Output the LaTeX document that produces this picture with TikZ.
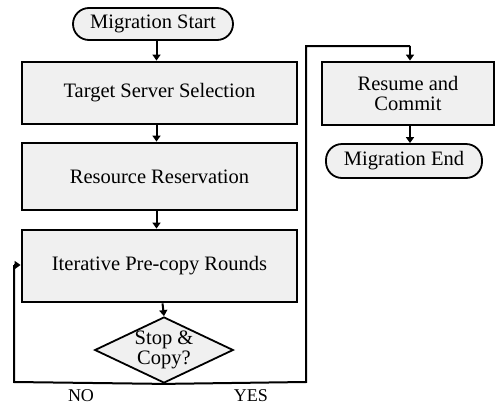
\documentclass[tikz,border=0pt]{standalone}
\usepackage{fontspec}
\setmainfont{Liberation Serif}
\usetikzlibrary{shapes.geometric,arrows.meta}
\begin{document}
\begin{tikzpicture}[x=1pt,y=-1pt,
  lbl/.style={font=\fontsize{20.5}{20}\selectfont},
  procbox/.style={draw,line width=2.8pt,fill=black!6,minimum width=275pt,inner sep=0pt,lbl},
  pill/.style={draw,line width=1.8pt,fill=black!6,rounded corners=16pt,inner sep=0pt,lbl},
  decide/.style={draw,line width=1.8pt,fill=black!6,diamond,aspect=2.1,inner sep=0pt,align=center,lbl},
  flow/.style={line width=2pt,-{Triangle[length=6pt,width=8pt]}},
  wire/.style={line width=2pt}]
\useasboundingbox (0,0) rectangle (496,405);
\node[pill,minimum width=160pt,minimum height=32pt] (start) at (153,24) {Migration Start};
\node[procbox,minimum height=62pt] (target) at (159.5,93) {Target Server Selection};
\node[procbox,minimum height=67pt] (reserve) at (159.5,176.5) {Resource Reservation};
\node[procbox,minimum height=72pt] (precopy) at (159.5,266) {\raisebox{4pt}{Iterative Pre-copy Rounds}};
\node[decide,minimum width=134pt,minimum height=64pt] (stop) at (164,350) {Stop \&\\Copy?};
\node[procbox,minimum width=172pt,minimum height=63pt,align=center] (resume) at (408,93.5) {Resume and\\Commit};
\node[pill,minimum width=156pt,minimum height=34pt] (finish) at (404,161) {Migration End};
\coordinate (nl) at (14,382);
\coordinate (nu) at (14,265);
\coordinate (yr) at (306,382);
\coordinate (yu) at (306,46);
\coordinate (yt) at (410,46);
\node[font=\fontsize{18}{20}\selectfont] (no) at (81,396) {NO};
\node[font=\fontsize{18}{20}\selectfont] (yes) at (251,396) {YES};
\draw[flow] (start.south -| target.north) ++(-3,0) -- ([xshift=-3pt]target.north);
\draw[flow] ([xshift=-3pt]target.south) -- ([xshift=-3pt]reserve.north);
\draw[flow] ([xshift=-3pt]reserve.south) -- ([xshift=-3pt]precopy.north);
\draw[flow] ([xshift=3pt]precopy.south) -- (stop.north);
\draw[wire] (stop.south) -- (nl) -- (nu);
\draw[flow] (nu) -- (nu -| precopy.west);
\draw[wire] (stop.south) -- (yr) -- (yu) -- (yt);
\draw[flow] (yt) -- (yt |- resume.north);
\draw[flow] (resume.south -| yt) -- (finish.north -| yt);
\end{tikzpicture}
\end{document}
